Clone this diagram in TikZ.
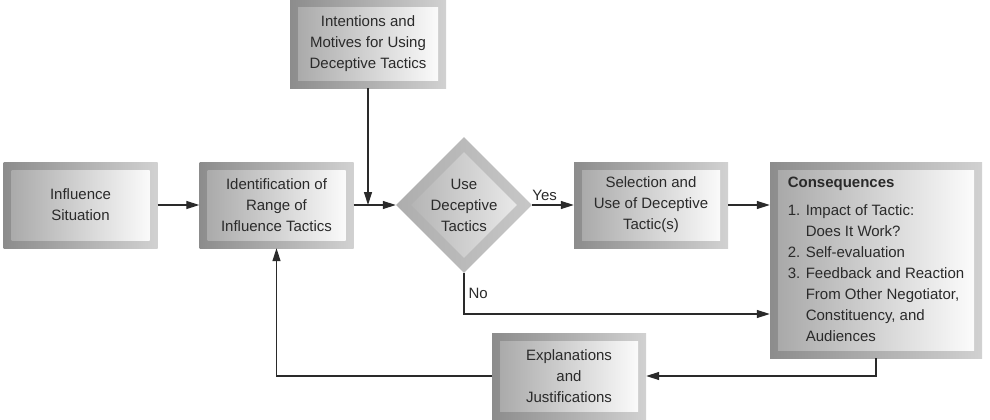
\documentclass[tikz,border=0pt]{standalone}
\usepackage{fontspec}
\setmainfont{Liberation Sans}
\usetikzlibrary{arrows.meta, shapes.geometric}
\definecolor{ink}{HTML}{2A2A2A}

\begin{document}
\begin{tikzpicture}[x=1pt, y=-1pt,
  font=\fontsize{15}{21}\selectfont, text=ink,
  panel/.style={minimum width=154pt, minimum height=86pt, inner sep=0pt, align=center,
    left color=black!45, right color=black!18,
    path picture={\shade[left color=black!35, right color=white]
      ([shift={(8pt,-8pt)}]path picture bounding box.north west) rectangle
      ([shift={(-8pt,8pt)}]path picture bounding box.south east);}},
  choice/.style={diamond, aspect=1, minimum size=136pt, inner sep=0pt, align=center,
    left color=black!32, right color=black!22,
    path picture={\shade[left color=black!32, right color=black!6]
      ([xshift=15pt]path picture bounding box.west) -- ([yshift=-15pt]path picture bounding box.north)
      -- ([xshift=-15pt]path picture bounding box.east) -- ([yshift=15pt]path picture bounding box.south) -- cycle;}},
  arr/.style={draw=ink, line width=1.2pt, -{Triangle[length=13pt, width=8pt]}}
]
\useasboundingbox (0,0) rectangle (990,420);

% Boxes
\node[panel] (sit) at (80.5,205) {Influence\\Situation};
\node[panel] (ident) at (276.5,205) {Identification of\\Range of\\Influence Tactics};
\node[panel, minimum width=156pt, minimum height=88pt] (intent) at (368,44) {Intentions and\\Motives for Using\\Deceptive Tactics};
\node[choice] (dec) at (464,205) {Use\\Deceptive\\Tactics};
\node[panel] (sel) at (651,205) {Selection and\\Use of Deceptive\\Tactic(s)};
\node[panel, minimum width=212pt, minimum height=196pt] (cons) at (876,260) {%
  \begin{tabular}{@{}r@{ }l@{}}
  \multicolumn{2}{@{}l}{\textbf{Consequences}}\\[7pt]
  1. & Impact of Tactic:\\
     & Does It Work?\\
  2. & Self-evaluation\\
  3. & Feedback and Reaction\\
     & From Other Negotiator,\\
     & Constituency, and\\
     & Audiences
  \end{tabular}};
\node[panel] (expl) at (569,376) {Explanations\\and\\Justifications};

% Define points
\coordinate (merge) at (intent.south |- ident.east);
\coordinate (nojoin) at (cons.west |- 0,314);

% Connectors
\draw[arr] (sit) -- (ident);
\draw[arr] (ident) -- (dec);
\draw[arr] (intent) -- (merge);
\draw[arr] (dec) -- node[above, pos=0.3, inner sep=4pt] (yes) {Yes} (sel);
\draw[arr] (sel.east) -- (sel.east -| cons.west);
\draw[arr] (dec.south) |- node[right, pos=0.25, inner sep=4pt] (no) {No} (nojoin);
\draw[arr] (cons.south) |- (expl.east);
\draw[arr] (expl.west) -| (ident.south);

\end{tikzpicture}
\end{document}
